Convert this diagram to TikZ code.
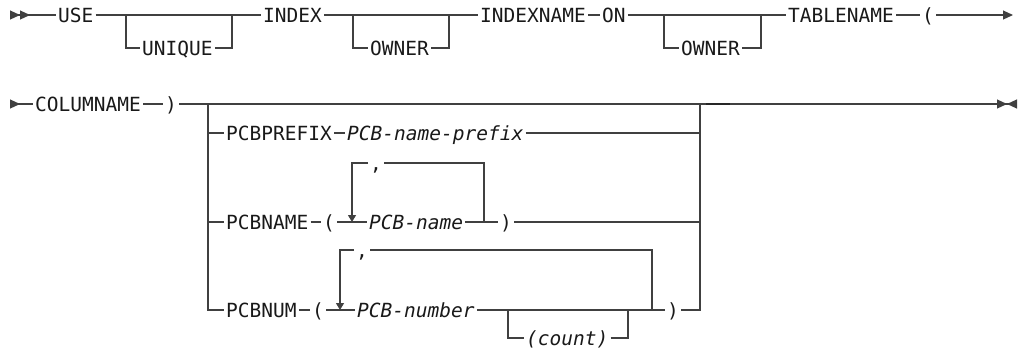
\documentclass[tikz,border=0pt]{standalone}
\usepackage{xcolor}
\usepackage{fontspec}
\setmonofont{DejaVu Sans Mono}
\usepackage{tikz}
\usetikzlibrary{arrows.meta}
\newcommand{\railfont}{\ttfamily\fontsize{19.5}{22}\selectfont}
\tikzstyle{kw} = [anchor=west, inner xsep=2pt, inner ysep=0pt, text height=14.2pt, text depth=0pt, font=\railfont, text=black!90]
\tikzstyle{var} = [kw, font=\railfont\itshape]
\tikzstyle{rail} = [line width=1.1pt, draw=black!75]
\tikzset{ibm/.tip={Triangle[length=10pt,width=9pt]}, dn/.tip={Triangle[length=7pt,width=8pt]}}

\begin{document}
\begin{tikzpicture}[x=1pt, y=-1pt]
    \useasboundingbox (0,0) rectangle (1018,349);

    % Nodes, first line
    \coordinate (s1) at (10,15);
    \node (use) [kw] at (56,15) {USE};
    \coordinate (f1a) at (126,15);
    \coordinate (f1b) at (232,15);
    \node (unique) [kw] at (140,48) {UNIQUE};
    \node (index) [kw] at (261,15) {INDEX};
    \coordinate (f2a) at (353,15);
    \coordinate (f2b) at (449,15);
    \node (own1) [kw] at (368,48) {OWNER};
    \node (ixname) [kw] at (478,15) {INDEXNAME};
    \node (on) [kw] at (600,15) {ON};
    \coordinate (f3a) at (664,15);
    \coordinate (f3b) at (761,15);
    \node (own2) [kw] at (679,48) {OWNER};
    \node (tbname) [kw] at (786,15) {TABLENAME};
    \node (lp1) [kw] at (920,15) {(};
    \coordinate (e1) at (1013,15);

    % Nodes, second line
    \coordinate (s2) at (10,104);
    \node (colname) [kw] at (33,104) {COLUMNAME};
    \node (rp1) [kw] at (163,104) {)};
    \coordinate (gL) at (208,104);
    \coordinate (gR) at (700,104);
    \coordinate (dash) at (706,104);
    \coordinate (e2) at (1017,104);

    \node (pcbprefix) [kw] at (224,133) {PCBPREFIX};
    \node (prefixval) [var] at (345,133) {PCB-name-prefix};

    \node (pcbname) [kw] at (224,222) {PCBNAME};
    \node (lp2) [kw] at (321,222) {(};
    \coordinate (l1a) at (352,222);
    \node (namevar) [var] at (367,222) {PCB-name};
    \coordinate (l1b) at (484,222);
    \node (rp2) [kw] at (498,222) {)};
    \node (cm1) [kw] at (368,163) {,};

    \node (pcbnum) [kw] at (224,310) {PCBNUM};
    \node (lp3) [kw] at (310,310) {(};
    \coordinate (l2a) at (340,310);
    \node (numvar) [var] at (355,310) {PCB-number};
    \coordinate (c1) at (508,310);
    \node (count) [var] at (524,338) {(count)};
    \coordinate (c2) at (628,310);
    \coordinate (l2b) at (652,310);
    \node (rp3) [kw] at (665,310) {)};
    \node (cm2) [kw] at (354,250) {,};

    % Lines, first line
    \draw [rail, {ibm[reversed]ibm[reversed]}-] (s1) -- (use);
    \draw [rail] (use) -- (index);
    \draw [rail] (f1a) |- (unique) -| (f1b);
    \draw [rail] (index) -- (ixname);
    \draw [rail] (f2a) |- (own1) -| (f2b);
    \draw [rail] (ixname) -- (on);
    \draw [rail] (on) -- (tbname);
    \draw [rail] (f3a) |- (own2) -| (f3b);
    \draw [rail] (tbname) -- (lp1);
    \draw [rail, -{ibm}] (lp1) -- (e1);

    % Lines, second line
    \draw [rail, {ibm[reversed]}-] (s2) -- (colname);
    \draw [rail] (colname) -- (rp1);
    \draw [rail, -{ibm[]ibm[reversed]}] (rp1) -- (e2);
    \draw [line width=2.2pt, black!85] (dash) -- ++(24,0);
    \draw [rail] (gL) |- (pcbnum);
    \draw [rail] (gL |- pcbprefix) -- (pcbprefix);
    \draw [rail] (gL |- pcbname) -- (pcbname);
    \draw [rail] (rp3) -| (gR);

    \draw [rail] (pcbprefix) -- (prefixval);
    \draw [rail] (prefixval) -- (gR |- prefixval);

    \draw [rail] (pcbname) -- (lp2);
    \draw [rail] (lp2) -- (namevar);
    \draw [rail] (namevar) -- (rp2);
    \draw [rail] (rp2) -- (gR |- rp2);
    \draw [rail] (l1b) |- (cm1);
    \draw [rail, -{dn}] (cm1) -| (l1a);

    \draw [rail] (pcbnum) -- (lp3);
    \draw [rail] (lp3) -- (numvar);
    \draw [rail] (numvar) -- (rp3);
    \draw [rail] (c1) |- (count) -| (c2);
    \draw [rail] (l2b) |- (cm2);
    \draw [rail, -{dn}] (cm2) -| (l2a);

\end{tikzpicture}
\end{document}
